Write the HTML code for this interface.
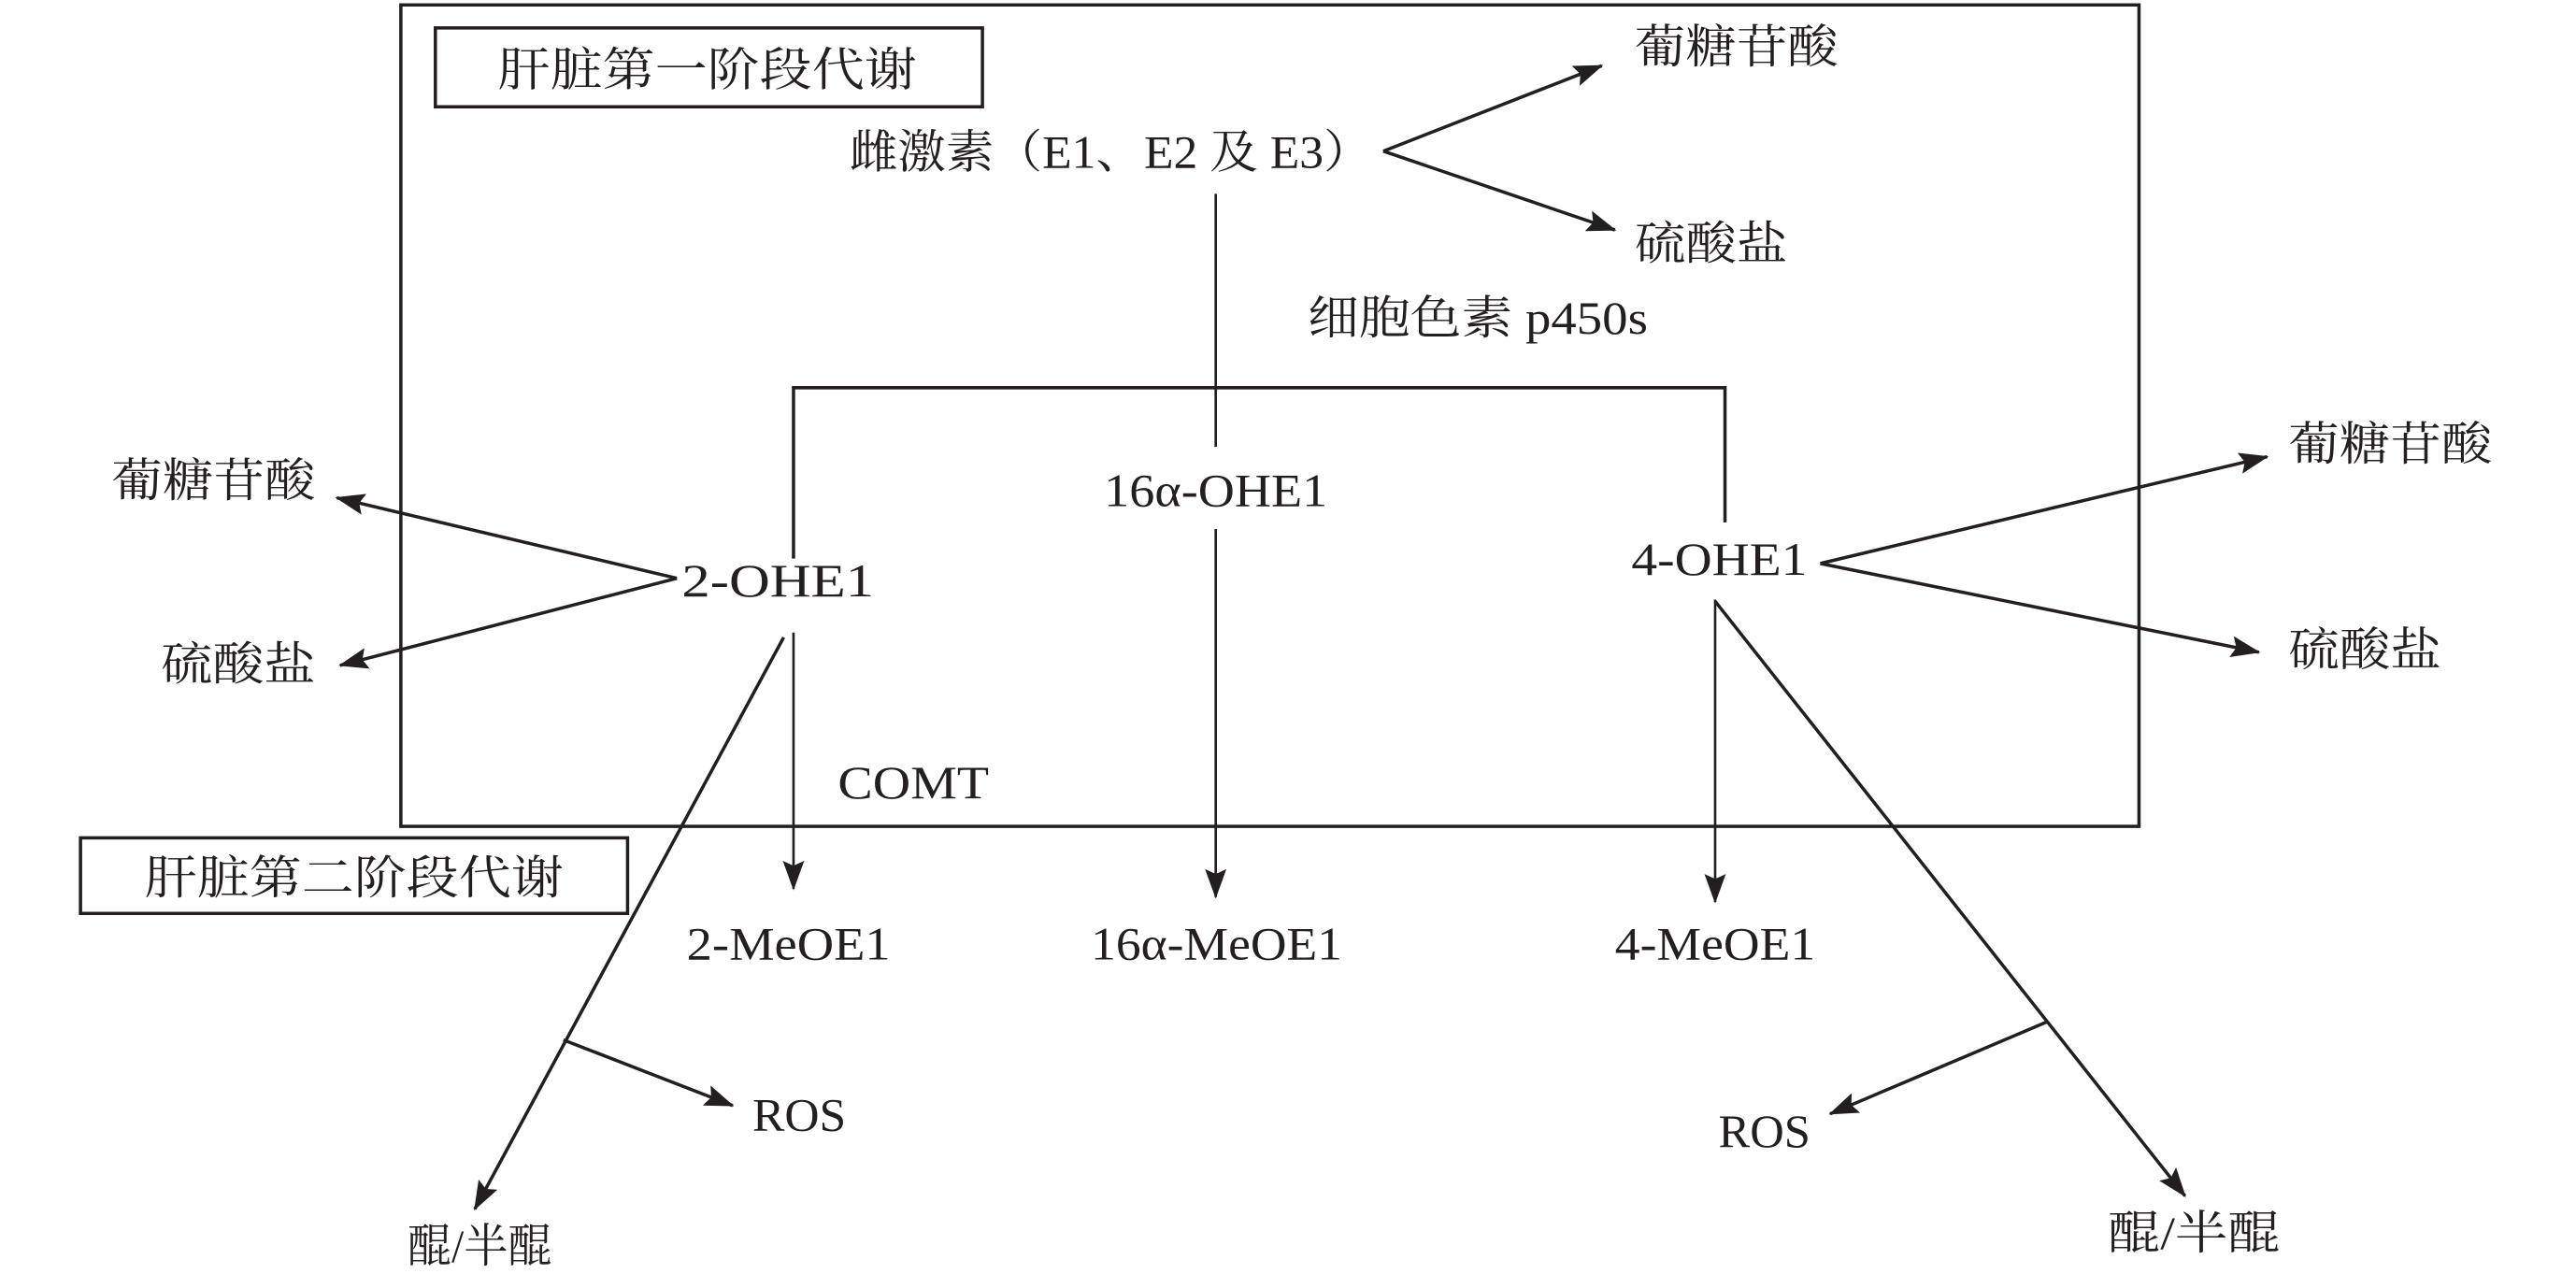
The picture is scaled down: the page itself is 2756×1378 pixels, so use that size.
<!DOCTYPE html>
<html><head><meta charset="utf-8"><style>
html,body{margin:0;padding:0;background:#fff;}
svg{display:block;}
text{font-family:"Liberation Serif","Noto Serif CJK SC",serif;font-size:28px;fill:#231f20;}
</style></head><body>
<svg width="2756" height="1378" viewBox="0 0 1568 784" xmlns="http://www.w3.org/2000/svg">
<defs>
<marker id="b" viewBox="0 0 18 13" refX="17" refY="6.5" markerWidth="18" markerHeight="13" orient="auto" markerUnits="userSpaceOnUse"><path d="M0,0 L18,6.5 L0,13 L3,6.5 z" fill="#231f20"/></marker></defs>
<g fill="none" stroke="#231f20" stroke-width="2">
<rect x="244" y="3" width="1058" height="500"/>
<rect x="265" y="17" width="333" height="48"/>
<rect x="49" y="510" width="333" height="46"/>
<line x1="842" y1="92" x2="975" y2="40" marker-end="url(#b)"/>
<line x1="842" y1="92" x2="983" y2="140" marker-end="url(#b)"/>
<line x1="740" y1="118" x2="740" y2="272" stroke-width="1.5"/>
<line x1="740" y1="322" x2="740" y2="546" stroke-width="1.5" marker-end="url(#b)"/>
<polyline points="483,340 483,236 1050,236 1050,318"/>
<line x1="412" y1="352" x2="205" y2="303" marker-end="url(#b)"/>
<line x1="412" y1="352" x2="207" y2="405" marker-end="url(#b)"/>
<line x1="1108" y1="343" x2="1380" y2="278" marker-end="url(#b)"/>
<line x1="1108" y1="343" x2="1375" y2="397" marker-end="url(#b)"/>
<line x1="483" y1="385" x2="483" y2="541" stroke-width="1.5" marker-end="url(#b)"/>
<line x1="477" y1="388" x2="289" y2="736" marker-end="url(#b)"/>
<line x1="343" y1="633" x2="446" y2="673" marker-end="url(#b)"/>
<line x1="1044" y1="365" x2="1044" y2="549" stroke-width="1.5" marker-end="url(#b)"/>
<line x1="1044" y1="366" x2="1330" y2="728" marker-end="url(#b)"/>
<line x1="1246" y1="622" x2="1114" y2="678" marker-end="url(#b)"/>
</g>
<text x="303" y="52" textLength="255" lengthAdjust="spacingAndGlyphs">肝脏第一阶段代谢</text>
<text x="88" y="544" textLength="255" lengthAdjust="spacingAndGlyphs">肝脏第二阶段代谢</text>
<text x="517" y="102" textLength="318" lengthAdjust="spacingAndGlyphs">雌激素（E1、E2 及 E3）</text>
<text x="995" y="38" textLength="124" lengthAdjust="spacingAndGlyphs">葡糖苷酸</text>
<text x="995" y="158" textLength="93" lengthAdjust="spacingAndGlyphs">硫酸盐</text>
<text x="796" y="203" textLength="207" lengthAdjust="spacingAndGlyphs">细胞色素 p450s</text>
<text x="672" y="308" textLength="136" lengthAdjust="spacingAndGlyphs">16α-OHE1</text>
<text x="415" y="363" textLength="117" lengthAdjust="spacingAndGlyphs">2-OHE1</text>
<text x="993" y="350" textLength="107" lengthAdjust="spacingAndGlyphs">4-OHE1</text>
<text x="68" y="302" textLength="124" lengthAdjust="spacingAndGlyphs">葡糖苷酸</text>
<text x="98" y="414" textLength="94" lengthAdjust="spacingAndGlyphs">硫酸盐</text>
<text x="1393" y="280" textLength="124" lengthAdjust="spacingAndGlyphs">葡糖苷酸</text>
<text x="1393" y="405" textLength="93" lengthAdjust="spacingAndGlyphs">硫酸盐</text>
<text x="510" y="486" textLength="92" lengthAdjust="spacingAndGlyphs">COMT</text>
<text x="418" y="584" textLength="124" lengthAdjust="spacingAndGlyphs">2-MeOE1</text>
<text x="664" y="584" textLength="153" lengthAdjust="spacingAndGlyphs">16α-MeOE1</text>
<text x="983" y="584" textLength="122" lengthAdjust="spacingAndGlyphs">4-MeOE1</text>
<text x="458" y="688" textLength="57" lengthAdjust="spacingAndGlyphs">ROS</text>
<text x="1046" y="698" textLength="56" lengthAdjust="spacingAndGlyphs">ROS</text>
<text x="248" y="768" textLength="88" lengthAdjust="spacingAndGlyphs">醌/半醌</text>
<text x="1283" y="760" textLength="105" lengthAdjust="spacingAndGlyphs">醌/半醌</text>
</svg>
</body></html>
